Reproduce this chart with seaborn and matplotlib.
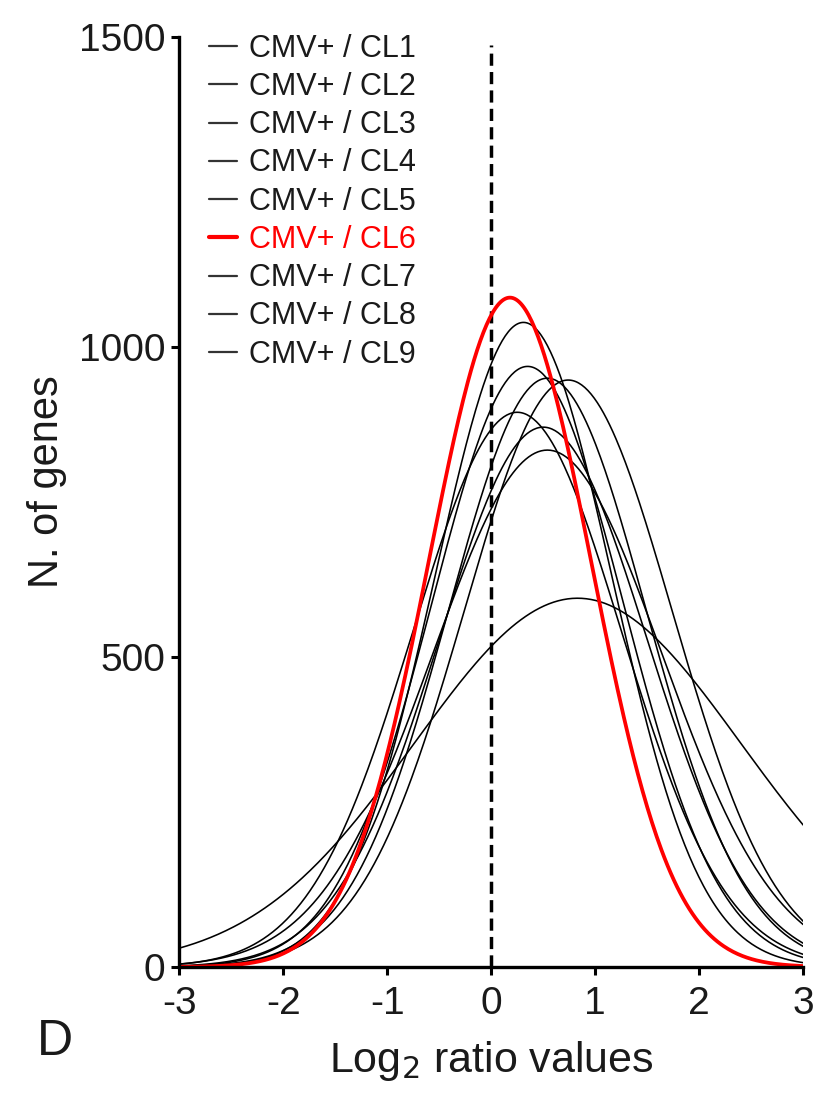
import numpy as np
import pandas as pd
import matplotlib
matplotlib.use("Agg")
import matplotlib.pyplot as plt
import seaborn as sns
from matplotlib.lines import Line2D

# Series labels and fitted Gaussian parameters
labels = ["CMV+ / CL1", "CMV+ / CL2", "CMV+ / CL3", "CMV+ / CL4", "CMV+ / CL5",
          "CMV+ / CL6", "CMV+ / CL7", "CMV+ / CL8", "CMV+ / CL9"]
peaks = [1040, 969, 950, 947, 895, 1080, 871, 834, 595]      # N. of genes at peak
means = [0.31, 0.35, 0.54, 0.74, 0.25, 0.18, 0.50, 0.54, 0.83]  # log2 ratio at peak
sds = [0.85, 0.92, 0.95, 1.00, 1.00, 0.78, 1.00, 1.10, 1.57]

x_ticks = [-3, -2, -1, 0, 1, 2, 3]
y_ticks = [0, 500, 1000, 1500]

xs = np.linspace(-3, 3, 401)
rows = []
for lab, a, m, s in zip(labels, peaks, means, sds):
    ys = a * np.exp(-(xs - m) ** 2 / (2 * s ** 2))
    rows.append(pd.DataFrame({"x": xs, "y": ys, "series": lab}))
df = pd.concat(rows, ignore_index=True)

sns.set_theme(style="ticks")
plt.rcParams["font.family"] = ["Liberation Sans", "DejaVu Sans"]

fig = plt.figure(figsize=(8.18, 10.97), dpi=100)
ax = fig.add_axes([0.219, 0.1185, 0.763, 0.8475])

palette = {lab: ("#ff0000" if lab == "CMV+ / CL6" else "black") for lab in labels}
order_draw = [l for l in labels if l != "CMV+ / CL6"] + ["CMV+ / CL6"]
for lab in order_draw:
    sub = df[df["series"] == lab]
    sns.lineplot(data=sub, x="x", y="y", ax=ax, color=palette[lab],
                 lw=2.7 if lab == "CMV+ / CL6" else 1.15, legend=False,
                 zorder=4 if lab == "CMV+ / CL6" else 3)

ax.plot([0, 0], [0, 1487], color="black", lw=2.5, ls=(0, (3.5, 1.8)), zorder=2)

ax.set_xlim(-3, 3)
ax.set_ylim(0, 1500)
ax.set_xticks(x_ticks)
ax.set_xticklabels([str(t) for t in x_ticks])
ax.set_yticks(y_ticks)
ax.set_yticklabels([str(t) for t in y_ticks])
ax.tick_params(axis="both", labelsize=28, width=2.2, length=6, color="black",
               labelcolor="#1a1a1a", pad=4)
ax.tick_params(axis="x", pad=8)
for sp in ["top", "right"]:
    ax.spines[sp].set_visible(False)
for sp in ["left", "bottom"]:
    ax.spines[sp].set_linewidth(2.4)
    ax.spines[sp].set_color("black")
    ax.spines[sp].set_zorder(5)

ax.set_xlabel(r"Log$_2$ ratio values", fontsize=31, color="#1a1a1a", labelpad=12)
ax.set_ylabel("N. of genes", fontsize=30, color="#1a1a1a")
ax.yaxis.set_label_coords(-0.179, 0.522)

handles = [Line2D([0], [0], color=("#ff0000" if l == "CMV+ / CL6" else "#333333"),
                  lw=3.0 if l == "CMV+ / CL6" else 1.6) for l in labels]
leg = ax.legend(handles, labels, loc="upper left", bbox_to_anchor=(0.029, 1.017),
                frameon=False, fontsize=22, handlelength=0.9, handletextpad=0.4,
                labelspacing=0.27, borderaxespad=0.0)
for t, l in zip(leg.get_texts(), labels):
    t.set_color("#ff0000" if l == "CMV+ / CL6" else "#1a1a1a")

fig.text(0.045, 0.038, "D", fontsize=36, color="#1a1a1a")

fig.savefig("out.png", dpi=100, facecolor="white")
